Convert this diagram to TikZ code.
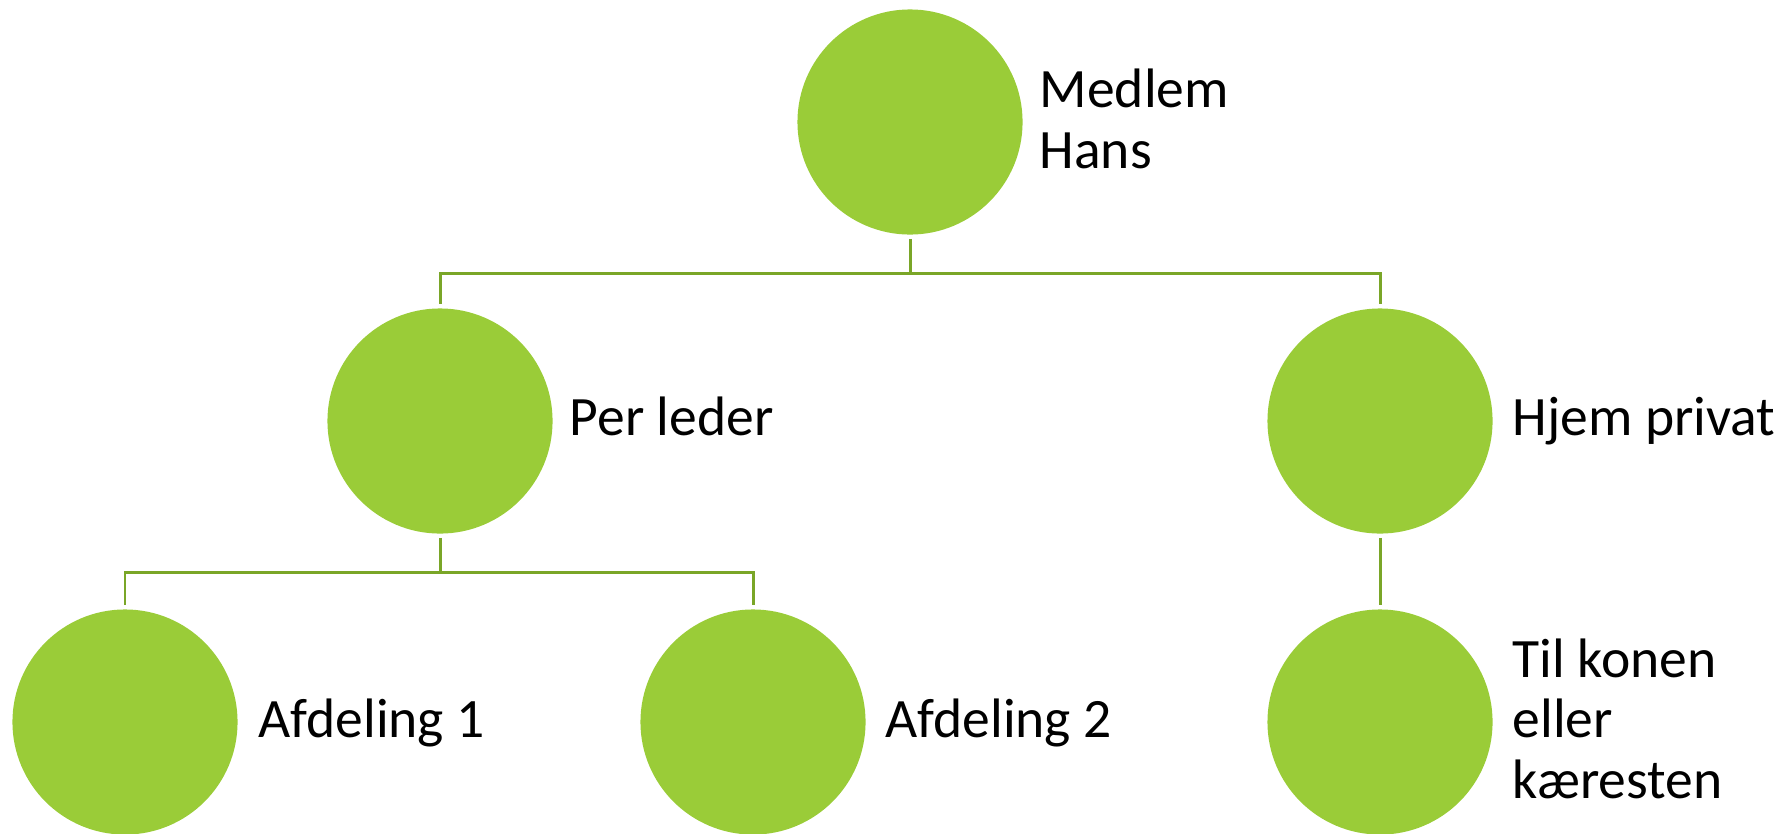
\documentclass[tikz,border=0pt]{standalone}
\usepackage{fontspec}
\setmainfont{Carlito}
\definecolor{leaf}{RGB}{154,204,56}
\definecolor{stem}{RGB}{122,166,40}
\begin{document}
\begin{tikzpicture}[x=0.01cm,y=-0.01cm,
  ball/.style={circle,fill=leaf,draw=none,inner sep=0pt,minimum size=2.25cm,outer sep=1.2pt},
  lbl/.style={anchor=base west,inner sep=0pt,align=left,font=\fontsize{15.8pt}{17.2pt}\selectfont},
  conn/.style={draw=stem,line width=0.85pt}]
\useasboundingbox (0,0) rectangle (1789,833);
\node[ball] (medlem) at (910,122) {};
\node[ball] (per) at (440,421) {};
\node[ball] (hjem) at (1380,421) {};
\node[ball] (afd1) at (125,722) {};
\node[ball] (afd2) at (753,722) {};
\node[ball] (til) at (1380,722) {};
\node[lbl] (tmedlem) at (1039,168) {Medlem\\Hans};
\node[lbl] (tper) at (569,435) {Per leder};
\node[lbl] (thjem) at (1512,435) {Hjem privat};
\node[lbl] (tafd1) at (258,737) {Afdeling 1};
\node[lbl] (tafd2) at (885,737) {Afdeling 2};
\node[lbl] (ttil) at (1512,798) {Til konen\\eller\\kæresten};
\coordinate (b1) at (910,273);
\coordinate (b2) at (440,572);
\draw[conn] (medlem.south) -- (b1) -| (per.north);
\draw[conn] (b1) -| (hjem.north);
\draw[conn] (per.south) -- (b2) -| (afd1.north);
\draw[conn] (b2) -| (afd2.north);
\draw[conn] (hjem.south) -- (til.north);
\end{tikzpicture}
\end{document}
